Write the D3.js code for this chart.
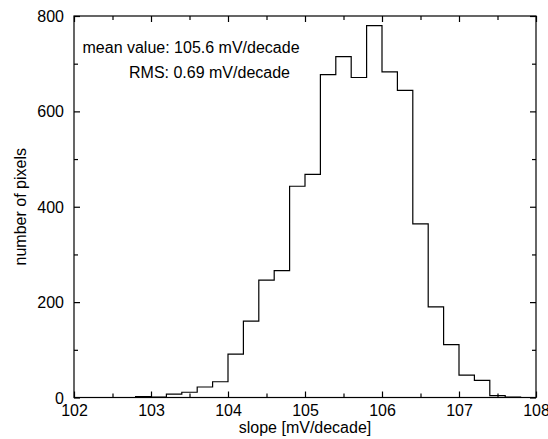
<!DOCTYPE html>
<html>
<head>
<meta charset="utf-8">
<script src="https://cdn.jsdelivr.net/npm/d3@7"></script>
<style>
body { margin: 0; background: #fff; }
text { font-family: "Liberation Sans", Arial, sans-serif; fill: #000; }
</style>
</head>
<body>
<div id="vis"></div>
<script>
// histogram of slopes, bin width 0.2 mV/decade
var binStart = [102.0, 102.2, 102.4, 102.6, 102.8, 103.0, 103.2, 103.4, 103.6, 103.8,
                104.0, 104.2, 104.4, 104.6, 104.8, 105.0, 105.2, 105.4, 105.6, 105.8,
                106.0, 106.2, 106.4, 106.6, 106.8, 107.0, 107.2, 107.4, 107.6, 107.8];
var binEnd = [102.2, 102.4, 102.6, 102.8, 103.0, 103.2, 103.4, 103.6, 103.8, 104.0,
              104.2, 104.4, 104.6, 104.8, 105.0, 105.2, 105.4, 105.6, 105.8, 106.0,
              106.2, 106.4, 106.6, 106.8, 107.0, 107.2, 107.4, 107.6, 107.8, 108.0];
var counts = [0, 0, 0, 0, 2, 1, 7, 11, 22, 33,
              91, 160, 246, 266, 443, 468, 677, 715, 671, 780,
              683, 644, 364, 190, 111, 47, 36, 4, 1, 0];

var xTicks = [102, 103, 104, 105, 106, 107, 108];
var xMinor = [102.5, 103.5, 104.5, 105.5, 106.5, 107.5];
var yTicks = [0, 200, 400, 600, 800];
var yMinor = [100, 300, 500, 700];
var notes = ["mean value: 105.6 mV/decade", "RMS: 0.69 mV/decade"];

var margin = {top: 16, right: 12, bottom: 41.5, left: 74};
var W = 548, H = 439;
var width = W - margin.left - margin.right;
var height = H - margin.top - margin.bottom;

var svg = d3.select("#vis").append("svg")
    .attr("width", W)
    .attr("height", H);

var g = svg.append("g")
    .attr("transform", "translate(" + margin.left + "," + margin.top + ")");

var x = d3.scaleLinear().domain([102, 108]).range([0, width]);
var y = d3.scaleLinear().domain([0, 800]).range([height, 0]);

// step outline built from bin edges
var pts = [];
counts.forEach(function (c, i) {
    pts.push([binStart[i], c]);
    pts.push([binEnd[i], c]);
});
pts.unshift([binStart[0], 0]);
pts.push([binEnd[binEnd.length - 1], 0]);

var line = d3.line()
    .x(function (d) { return x(d[0]); })
    .y(function (d) { return y(d[1]); });

g.append("path")
    .datum(pts)
    .attr("d", line)
    .attr("fill", "none")
    .attr("stroke", "#000")
    .attr("stroke-width", 1.2);

// frame
g.append("rect")
    .attr("width", width)
    .attr("height", height)
    .attr("fill", "none")
    .attr("stroke", "#000")
    .attr("stroke-width", 1.2);

function tickAxis(axis, vals, size, pos, showLabels) {
    var a = axis.tickValues(vals).tickSize(-size).tickSizeOuter(0)
        .tickFormat(showLabels ? d3.format("d") : "");
    var ax = g.append("g").attr("transform", pos).call(a);
    ax.select(".domain").remove();
    ax.selectAll("line").attr("stroke", "#000").attr("stroke-width", 1.2);
    ax.selectAll("text").attr("font-size", 16).attr("fill", "#000")
        .style("font-family", '"Liberation Sans", Arial, sans-serif');
    return ax;
}

var bx = tickAxis(d3.axisBottom(x), xTicks, 6, "translate(0," + height + ")", true);
bx.selectAll("text").attr("dy", null).attr("y", 18);
tickAxis(d3.axisBottom(x), xMinor, 4, "translate(0," + height + ")", false);
tickAxis(d3.axisTop(x), xTicks, 6, "translate(0,0)", false);
tickAxis(d3.axisTop(x), xMinor, 4, "translate(0,0)", false);

var ly = tickAxis(d3.axisLeft(y), yTicks, 6, "translate(0,0)", true);
ly.selectAll("text").attr("x", -10).attr("dy", "0.35em");
tickAxis(d3.axisLeft(y), yMinor, 4, "translate(0,0)", false);
tickAxis(d3.axisRight(y), yTicks, 6, "translate(" + width + ",0)", false);
tickAxis(d3.axisRight(y), yMinor, 4, "translate(" + width + ",0)", false);

// axis titles
svg.append("text")
    .attr("x", margin.left + width / 2)
    .attr("y", 433)
    .attr("text-anchor", "middle")
    .attr("font-size", 16)
    .text("slope [mV/decade]");

svg.append("text")
    .attr("transform", "translate(26," + (margin.top + height / 2) + ") rotate(-90)")
    .attr("text-anchor", "middle")
    .attr("font-size", 16)
    .text("number of pixels");

// annotation
svg.append("text")
    .attr("x", 82.5)
    .attr("y", 53)
    .attr("font-size", 16)
    .text(notes[0]);
svg.append("text")
    .attr("x", 129)
    .attr("y", 78)
    .attr("font-size", 16)
    .text(notes[1]);
</script>
</body>
</html>
